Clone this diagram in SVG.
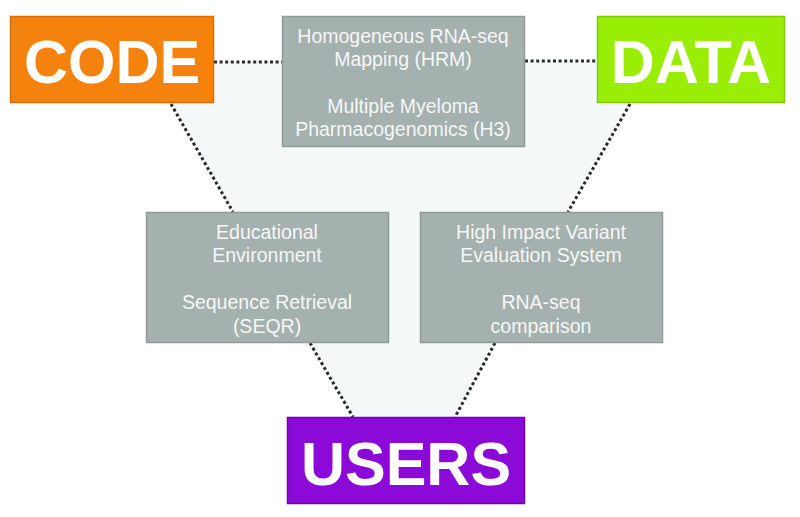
<svg xmlns="http://www.w3.org/2000/svg" width="800" height="517" viewBox="0 0 800 517">
<style>
.big{font-family:"Liberation Sans",Arial,sans-serif;font-weight:bold;font-size:61px;fill:#ffffff;text-anchor:middle}
.gray{fill:#a4b1ae;stroke:#8e9b98;stroke-width:1.5}
.t{font-family:"Liberation Sans",Arial,sans-serif;font-size:19.5px;fill:#f6f7f7;text-anchor:middle}
.dot{stroke:#2a2a2a;stroke-width:3;stroke-dasharray:3 2.6;fill:none}
</style>
<rect width="800" height="517" fill="#ffffff"/>
<polygon points="171,103 213,103 213,62 597,62 597,103 630,103 568,212 495,343 455,417 353,417 312,343 233,212" fill="#f4f8f8"/>
<g id="connectors">
<line class="dot" x1="214" y1="62" x2="282" y2="62"/>
<line class="dot" x1="525" y1="61" x2="597" y2="61"/>
<line class="dot" x1="171" y1="104" x2="233" y2="212"/>
<line class="dot" x1="630" y1="104" x2="568" y2="212"/>
<line class="dot" x1="310" y1="343" x2="353" y2="417"/>
<line class="dot" x1="495" y1="343" x2="455" y2="417"/>
</g>
<g id="code">
<rect x="10.5" y="16.5" width="203" height="86" fill="#f5820d" stroke="#d96d08" stroke-width="1.5"/>
<text class="big" x="112" y="83">CODE</text>
</g>
<g id="data">
<rect x="597.5" y="16.5" width="187" height="86" fill="#9aee05" stroke="#80c905" stroke-width="1.5"/>
<text class="big" x="691" y="83">DATA</text>
</g>
<g id="users">
<rect x="287.5" y="417.5" width="237" height="86" fill="#8b0ad8" stroke="#6c06ab" stroke-width="1.5"/>
<text class="big" x="406" y="485">USERS</text>
</g>
<g id="hrm">
<rect class="gray" x="282.5" y="16.5" width="242" height="130"/>
<text class="t" x="403" y="43">Homogeneous RNA-seq</text>
<text class="t" x="403" y="66">Mapping (HRM)</text>
<text class="t" x="403" y="113">Multiple Myeloma</text>
<text class="t" x="403" y="136">Pharmacogenomics (H3)</text>
</g>
<g id="edu">
<rect class="gray" x="146.5" y="212.5" width="242" height="130"/>
<text class="t" x="267" y="239">Educational</text>
<text class="t" x="267" y="262">Environment</text>
<text class="t" x="267" y="309">Sequence Retrieval</text>
<text class="t" x="267" y="333">(SEQR)</text>
</g>
<g id="hivs">
<rect class="gray" x="420.5" y="212.5" width="242" height="130"/>
<text class="t" x="541" y="239">High Impact Variant</text>
<text class="t" x="541" y="262">Evaluation System</text>
<text class="t" x="541" y="309">RNA-seq</text>
<text class="t" x="541" y="333">comparison</text>
</g>
</svg>
